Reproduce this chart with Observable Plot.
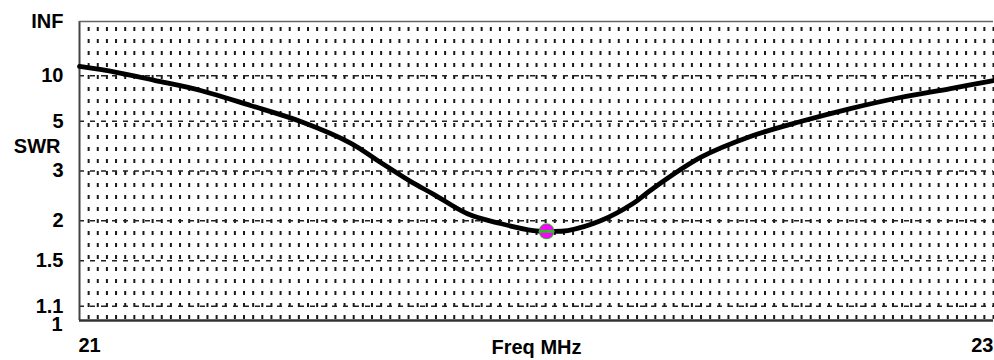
<!DOCTYPE html>
<html><head><meta charset="utf-8">
<script src="https://cdn.jsdelivr.net/npm/d3@7"></script>
<script src="https://cdn.jsdelivr.net/npm/@observablehq/plot@0.6"></script>
<style>
body{margin:0;background:#fff;}
#chart{width:994px;height:360px;}
</style></head><body><div id="chart"></div>
<script>
// Frequency (MHz) and SWR
const freq = [21.000, 21.083, 21.166, 21.265, 21.374, 21.484, 21.593, 21.659, 21.724, 21.775, 21.849, 21.921, 21.993, 22.022, 22.068, 22.140, 22.212, 22.249, 22.359, 22.468, 22.578, 22.687, 22.796, 22.906, 23.000];
const swr  = [12.29, 10.72, 9.13, 7.67, 6.12, 4.98, 3.92, 3.24, 2.74, 2.46, 2.11, 1.96, 1.86, 1.85, 1.86, 2.00, 2.29, 2.54, 3.40, 4.20, 4.98, 5.87, 6.87, 7.92, 9.13];
const markerFreq = [22.022];
const markerSwr = [1.85];
const yTickSwr = [Infinity, 10, 5, 3, 2, 1.5, 1.1];
const yTickLabels = ["INF", "10", "5", "3", "2", "1.5", "1.1"];
const bottomTickSwr = [1];
const bottomTickLabel = ["1"];
const majorSwr = [10, 5, 3, 2, 1.5, 1.1];
const xTickLabels = ["21", "23"];
const xTickValues = [21, 23];

const rho = s => s === Infinity ? 1 : (s - 1) / (s + 1);
const data = freq.map((f, i) => ({f, s: swr[i]}));
const marker = markerFreq.map((f, i) => ({f, s: markerSwr[i]}));
const yTicks = yTickSwr.map((s, i) => ({s, label: yTickLabels[i]}));
const yBottom = bottomTickSwr.map((s, i) => ({s, label: bottomTickLabel[i]}));
const xCols = d3.range(1, 101).map(i => 21 + i * 0.02);

const hBar = {draw(ctx){ ctx.rect(-7, -1.5, 14, 3); }};
const font = {fontSize: 20};

const chart = Plot.plot({
  width: 994,
  height: 360,
  marginLeft: 79,
  marginRight: 1,
  marginTop: 21,
  marginBottom: 40,
  x: {domain: [21, 23], axis: null},
  y: {domain: [0, 1], axis: null},
  style: {fontFamily: "'Liberation Sans', Arial, sans-serif", fontSize: "20px", fontWeight: "bold", background: "#fff", color: "#000"},
  marks: [
    Plot.ruleX(xCols, {stroke: "#1a1a1a", strokeWidth: 2, strokeDasharray: "4,8", strokeDashoffset: 6}),
    Plot.ruleY(majorSwr, {y: d => rho(d), stroke: "#222", strokeWidth: 1.5, strokeDasharray: "5,6"}),
    Plot.ruleX([21], {stroke: "#444", strokeWidth: 2}),
    Plot.ruleY([0], {stroke: "#333", strokeWidth: 2.5}),
    Plot.ruleY([1], {stroke: "#666", strokeWidth: 1.5}),
    Plot.line(data, {x: "f", y: d => rho(d.s), stroke: "#000", strokeWidth: 4.8, curve: "catmull-rom"}),
    Plot.dot(marker, {x: "f", y: d => rho(d.s), r: 8, fill: "#22c322", stroke: "none"}),
    Plot.dot(marker, {x: "f", y: d => rho(d.s), r: 7, fill: "#ff00ff", stroke: "none"}),
    Plot.dot(marker, {x: "f", y: d => rho(d.s), symbol: hBar, r: 4, fill: "#22c322", stroke: "none"}),
    Plot.text(yTicks, {x: 21, y: d => rho(d.s), text: "label", textAnchor: "end", dx: -16, lineAnchor: "middle", ...font}),
    Plot.text(yBottom, {x: 21, y: d => rho(d.s), text: "label", textAnchor: "end", dx: -17, dy: 4, lineAnchor: "middle", ...font}),
    Plot.text(["SWR"], {frameAnchor: "left", dx: -19, dy: -24, textAnchor: "end", lineAnchor: "middle", ...font}),
    Plot.text([0], {x: () => xTickValues[0], text: () => xTickLabels[0], frameAnchor: "bottom", dy: 25, dx: -1, textAnchor: "start", lineAnchor: "middle", ...font}),
    Plot.text([1], {x: () => xTickValues[1], text: () => xTickLabels[1], frameAnchor: "bottom", dy: 25, textAnchor: "end", lineAnchor: "middle", ...font}),
    Plot.text(["Freq MHz"], {frameAnchor: "bottom", dy: 27, lineAnchor: "middle", ...font})
  ]
});
document.getElementById("chart").appendChild(chart);
</script></body></html>
